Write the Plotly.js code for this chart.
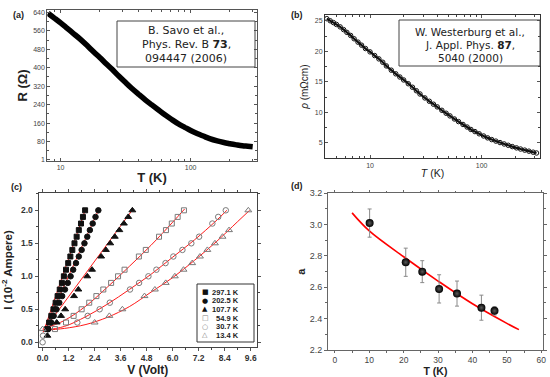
<!DOCTYPE html>
<html>
<head>
<meta charset="utf-8">
<script src="https://cdn.plot.ly/plotly-3.0.1.min.js"></script>
<style>html,body{margin:0;padding:0;background:#fff;}#chart{width:550px;height:377px;}</style>
</head>
<body>
<div id="chart"></div>
<script>
// ---------- Panel (a): R vs T (log T) ----------
const tempA = [8.0, 9, 10, 11, 12.5, 14, 16, 18, 20, 22.5, 25, 28, 31, 35, 40, 45, 50, 56, 63, 71, 80, 90, 100, 112, 125, 140, 160, 180, 200, 225, 250, 275, 300];
const resA  = [636, 614, 594, 575, 549, 526, 496, 468, 444, 416, 392, 364, 340, 312, 284, 260, 240, 219, 197, 177, 158, 142, 128, 115, 104, 93, 83, 76, 71, 66, 62, 60, 58];
const yTicksA = [1, 80, 160, 240, 320, 400, 480, 560, 640];

// ---------- Panel (b): rho vs T (log T) ----------
const tempB = [4.1,4.4,4.7,5.0,5.4,5.8,6.2,6.7,7.2,7.8,8.4,9.1,10,11,12,13,14,15.5,17,18.5,20,22,24,26,28,31,34,37,40,44,48,52,57,62,68,74,80,87,95,104,113,123,134,146,159,173,188,205,223,243,265,289,310];
const rhoB  = [25.35,25.0,24.7,24.4,24.0,23.55,23.1,22.6,22.05,21.5,21.0,20.45,19.9,19.3,18.75,18.2,17.6,16.9,16.3,15.78,15.3,14.68,14.1,13.53,13.0,12.35,11.8,11.32,10.88,10.32,9.84,9.4,8.9,8.47,8.0,7.58,7.18,6.83,6.47,6.11,5.8,5.52,5.27,5.03,4.8,4.58,4.37,4.16,3.97,3.79,3.62,3.45,3.32];

// ---------- Panel (c): I-V curves ----------
const seriesLabels = ['297.1 K', '202.5 K', '107.7 K', '54.9 K', '30.7 K', '13.4 K'];
const I_297 = [0.2,0.3,0.4,0.5,0.6,0.7,0.8,0.9,1.0,1.1,1.2,1.3,1.4,1.5,1.6,1.7,1.8,1.9,2.0];
const V_297 = [0.21,0.30,0.40,0.50,0.60,0.69,0.79,0.89,0.98,1.08,1.18,1.28,1.37,1.47,1.57,1.67,1.77,1.86,1.96];
const I_202 = [0.2,0.3,0.4,0.5,0.6,0.7,0.8,0.9,1.0,1.1,1.2,1.3,1.4,1.5,1.6,1.7,1.8,1.9,2.0];
const V_202 = [0.26,0.39,0.51,0.64,0.77,0.90,1.03,1.16,1.29,1.41,1.54,1.67,1.80,1.93,2.06,2.18,2.31,2.44,2.57];
const I_107 = [0.1,0.3,0.4,0.5,0.7,0.8,1.0,1.1,1.3,1.4,1.5,1.6,1.7,1.8,1.9,2.0];
const V_107 = [0.22,0.65,0.85,1.04,1.45,1.65,2.06,2.28,2.70,2.92,3.12,3.33,3.54,3.75,3.95,4.14];
const I_549 = [0.2,0.3,0.4,0.5,0.6,0.7,0.8,0.9,1.0,1.1,1.3,1.4,1.6,1.7,1.8,1.9,2.0];
const V_549 = [0.57,1.08,1.43,1.80,2.15,2.48,2.80,3.16,3.48,3.78,4.44,4.76,5.37,5.69,5.96,6.23,6.52];
const I_307 = [0.0,0.1,0.3,0.4,0.5,0.6,0.8,0.9,1.0,1.1,1.2,1.3,1.4,1.5,1.6,1.8,1.9,2.0];
const V_307 = [0.0,0.02,1.60,2.08,2.63,3.10,4.03,4.45,4.88,5.25,5.67,6.03,6.45,6.86,7.22,7.83,8.10,8.45];
const I_134 = [0.2,0.3,0.4,0.5,0.7,0.8,0.9,1.0,1.1,1.2,1.3,1.4,1.5,1.6,1.7,2.0];
const V_134 = [0.0,2.40,3.08,3.68,4.70,5.18,5.68,6.10,6.50,6.90,7.26,7.60,7.95,8.30,8.60,9.49];
// fitted curves (red)
const fitV_297 = [0.03, 1.98], fitI_297 = [0.15, 2.02];
const fitV_202 = [0.03, 2.60], fitI_202 = [0.16, 2.02];
const fitV_107 = [0.03, 4.15], fitI_107 = [0.17, 2.01];
const fitV_549 = [0, 1, 2, 3, 4, 5, 6, 6.55];
const fitI_549 = [0.20, 0.33, 0.55, 0.84, 1.15, 1.47, 1.82, 2.02];
const fitV_307 = [0, 1, 2, 3, 4, 5, 6, 7, 8, 8.5];
const fitI_307 = [0.18, 0.24, 0.39, 0.58, 0.80, 1.03, 1.29, 1.55, 1.84, 2.00];
const fitV_134 = [0, 1, 2, 3, 4, 5, 6, 7, 8, 9, 9.55];
const fitI_134 = [0.18, 0.21, 0.27, 0.38, 0.54, 0.76, 0.98, 1.24, 1.52, 1.83, 2.00];

// ---------- Panel (d): a vs T ----------
const tempD = [10.1, 20.6, 25.4, 30.3, 35.5, 42.6, 46.4];
const aD    = [3.01, 2.76, 2.70, 2.59, 2.56, 2.47, 2.45];
const errD  = [0.09, 0.09, 0.07, 0.09, 0.08, 0.08, 0.027];
const fitTD = [5, 10, 20, 30, 40, 50, 53.5];
const fitAD = [3.075, 2.96, 2.795, 2.64, 2.495, 2.37, 2.33];

// ---------- helpers ----------
const W = 550, H = 377;
const px = x => x / W;
const py = y => 1 - y / H;
const TF = 'Liberation Sans, Arial, sans-serif';
const VF = 'DejaVu Sans, Verdana, sans-serif';

function axis(o) {
  return Object.assign({
    showgrid: false, zeroline: false, showline: true, linecolor: '#555', linewidth: 1,
    mirror: 'allticks', ticks: 'inside', ticklen: 3, tickwidth: 1, tickcolor: '#555',
    automargin: false, tickfont: {family: TF, size: 7, color: '#444'}
  }, o);
}

const traces = [];
// (a)
traces.push({x: tempA, y: resA, xaxis: 'x', yaxis: 'y', type: 'scatter', mode: 'lines',
  line: {color: '#000', width: 5.5, shape: 'spline'}, showlegend: false});
// (b)
traces.push({x: tempB, y: rhoB, xaxis: 'x2', yaxis: 'y2', type: 'scatter', mode: 'lines+markers',
  line: {color: '#111', width: 2.2, shape: 'spline'},
  marker: {symbol: 'circle-open', size: 4.5, color: '#111', line: {width: 1, color: '#111'}}, showlegend: false});
// (c) fits
const fits = [[fitV_297, fitI_297], [fitV_202, fitI_202], [fitV_107, fitI_107],
              [fitV_549, fitI_549], [fitV_307, fitI_307], [fitV_134, fitI_134]];
fits.forEach(f => traces.push({x: f[0], y: f[1], xaxis: 'x3', yaxis: 'y3', type: 'scatter', mode: 'lines',
  line: {color: '#ff1a1a', width: 1, shape: 'spline'}, showlegend: false, hoverinfo: 'skip'}));
// (c) data
const cData = [
  [V_297, I_297, 'square', 5, '#111'],
  [V_202, I_202, 'circle', 5.5, '#111'],
  [V_107, I_107, 'triangle-up', 6, '#111'],
  [V_549, I_549, 'square-open', 5, '#7a7a7a'],
  [V_307, I_307, 'circle-open', 5.5, '#7a7a7a'],
  [V_134, I_134, 'triangle-up-open', 6, '#7a7a7a']
];
cData.forEach((d, i) => traces.push({x: d[0], y: d[1], name: seriesLabels[i], xaxis: 'x3', yaxis: 'y3',
  type: 'scatter', mode: 'markers', marker: {symbol: d[2], size: d[3], color: d[4], line: {width: 1, color: d[4]}},
  showlegend: false}));
// (d)
traces.push({x: fitTD, y: fitAD, xaxis: 'x4', yaxis: 'y4', type: 'scatter', mode: 'lines',
  line: {color: '#ff0000', width: 1.6, shape: 'spline'}, showlegend: false});
traces.push({x: tempD, y: aD, xaxis: 'x4', yaxis: 'y4', type: 'scatter', mode: 'markers',
  error_y: {type: 'data', array: errD, visible: true, color: '#8a8a8a', thickness: 1, width: 2},
  marker: {symbol: 'circle', size: 8, color: '#000', gradient: {type: 'radial', color: '#5a5a5a'}},
  showlegend: false});

const annotations = [];
function ann(text, x, y, o) {
  annotations.push(Object.assign({text: text, x: px(x), y: py(y), xref: 'paper', yref: 'paper',
    showarrow: false, xanchor: 'center', yanchor: 'middle', font: {family: TF, size: 9, color: '#222'}}, o || {}));
}
// panel labels
ann('<b>(a)</b>', 18, 15);
ann('<b>(b)</b>', 297, 15);
ann('<b>(c)</b>', 16, 187);
ann('<b>(d)</b>', 297, 186);
// reference boxes
const boxA = ['B. Savo et al.,', 'Phys. Rev. B <b>73</b>,', '094447 (2006)'];
const boxB = ['W. Westerburg et al.,', 'J. Appl. Phys. <b>87</b>,', '5040 (2000)'];
[30, 44, 58].forEach((y, i) => ann(boxA[i], 186, y, {font: {family: VF, size: 11, color: '#222'}}));
[32, 45, 57.5].forEach((y, i) => ann(boxB[i], 470, y, {font: {family: VF, size: 10.5, color: '#222'}}));
// legend of (c)
const legSym = ['■', '●', '▲', '□', '○', '△'];
const legCol = ['#111', '#111', '#111', '#7a7a7a', '#7a7a7a', '#7a7a7a'];
const legY = [292, 300.7, 309.4, 318, 326.7, 335.4];
legY.forEach((y, i) => {
  ann(legSym[i], 205, y, {font: {family: VF, size: 7, color: legCol[i]}});
  ann('<b>' + seriesLabels[i] + '</b>', 241, y, {xanchor: 'right', font: {family: TF, size: 7.5, color: '#222'}});
});

const shapes = [
  {type: 'rect', xref: 'paper', yref: 'paper', x0: px(117), x1: px(255), y0: py(67), y1: py(21), line: {color: '#444', width: 1}},
  {type: 'rect', xref: 'paper', yref: 'paper', x0: px(399), x1: px(540), y0: py(66), y1: py(20), line: {color: '#444', width: 1}},
  {type: 'rect', xref: 'paper', yref: 'paper', x0: px(197), x1: px(254), y0: py(342), y1: py(284), line: {color: '#333', width: 1}}
];

const layout = {
  width: W, height: H, margin: {l: 0, r: 0, t: 0, b: 0}, paper_bgcolor: '#fff', plot_bgcolor: '#fff',
  showlegend: false, annotations: annotations, shapes: shapes,
  xaxis: axis({domain: [px(47.3), px(256.7)], anchor: 'y', type: 'log', range: [0.8976, 2.5079],
    tickmode: 'array', tickvals: [10, 100], ticktext: ['10', '100'],
    minor: {ticks: 'inside', ticklen: 2, tickcolor: '#555', tickmode: 'array', tickvals: [9, 20, 30, 40, 50, 60, 70, 80, 90, 200, 300]},
    title: {text: '<b>T (K)</b>', font: {family: TF, size: 13, color: '#222'}, standoff: 2}}),
  yaxis: axis({domain: [py(161), py(10)], anchor: 'x', range: [-4, 650], tickmode: 'array', tickvals: yTicksA,
    minor: {ticks: 'inside', ticklen: 2, tickcolor: '#555', tickmode: 'array', tickvals: [40, 120, 200, 280, 360, 440, 520, 600]},
    title: {text: '<b>R (Ω)</b>', font: {family: TF, size: 13, color: '#222'}, standoff: 2}}),
  xaxis2: axis({domain: [px(325), px(540)], anchor: 'y2', type: 'log', range: [0.5966, 2.5224],
    tickmode: 'array', tickvals: [10, 100], ticktext: ['10', '100'], linecolor: '#333',
    minor: {ticks: 'inside', ticklen: 2, tickcolor: '#444', tickmode: 'array', tickvals: [5, 6, 7, 8, 9, 20, 30, 40, 50, 60, 70, 80, 90, 200, 300]},
    title: {text: '<i>T</i> (K)', font: {family: TF, size: 10.5, color: '#222'}, standoff: 1}}),
  yaxis2: axis({domain: [py(158.3), py(15)], anchor: 'x2', range: [2.45, 25.95], tick0: 5, dtick: 5, linecolor: '#333',
    minor: {ticks: 'inside', ticklen: 2, tickcolor: '#444', dtick: 2.5},
    title: {text: '<i>ρ</i> (mΩcm)', font: {family: TF, size: 10, color: '#222'}, standoff: 4}}),
  xaxis3: axis({domain: [px(38.5), px(257)], anchor: 'y3', range: [-0.19, 9.89], tick0: 0, dtick: 1.2, tickformat: '.1f',
    ticks: 'outside', linecolor: '#444',
    tickfont: {family: TF, size: 8.5, color: '#333', weight: 'bold'},
    minor: {ticks: 'outside', ticklen: 2, tickcolor: '#444', dtick: 0.6},
    title: {text: '<b>V (Volt)</b>', font: {family: TF, size: 12, color: '#222'}, standoff: 2}}),
  yaxis3: axis({domain: [py(346.7), py(193.3)], anchor: 'x3', range: [-0.067, 2.258], tick0: 0, dtick: 0.5, tickformat: '.1f',
    ticks: 'outside', linecolor: '#444',
    tickfont: {family: TF, size: 8.5, color: '#333', weight: 'bold'},
    minor: {ticks: 'outside', ticklen: 2, tickcolor: '#444', dtick: 0.25},
    title: {text: '<b>I (10<sup>-2</sup> Ampere)</b>', font: {family: TF, size: 11.5, color: '#222'}, standoff: 6}}),
  xaxis4: axis({domain: [px(328), px(543)], anchor: 'y4', range: [-2, 60.5], tick0: 0, dtick: 10,
    ticks: 'outside', ticklen: 2, linecolor: '#666', tickcolor: '#666',
    tickfont: {family: TF, size: 8.5, color: '#444'},
    minor: {ticks: 'outside', ticklen: 1.5, tickcolor: '#666', dtick: 5},
    title: {text: '<b>T (K)</b>', font: {family: TF, size: 10.5, color: '#222'}, standoff: 6}}),
  yaxis4: axis({domain: [py(350), py(193.3)], anchor: 'x4', range: [2.2, 3.2], tick0: 2.2, dtick: 0.2, tickformat: '.1f',
    ticks: 'outside', linecolor: '#666', tickcolor: '#666',
    tickfont: {family: TF, size: 9, color: '#444'},
    minor: {ticks: 'outside', ticklen: 2, tickcolor: '#666', dtick: 0.1},
    title: {text: '<b>a</b>', font: {family: TF, size: 11, color: '#222'}, standoff: 1}})
};

Plotly.newPlot('chart', traces, layout, {staticPlot: true, displayModeBar: false});
</script>
</body>
</html>
